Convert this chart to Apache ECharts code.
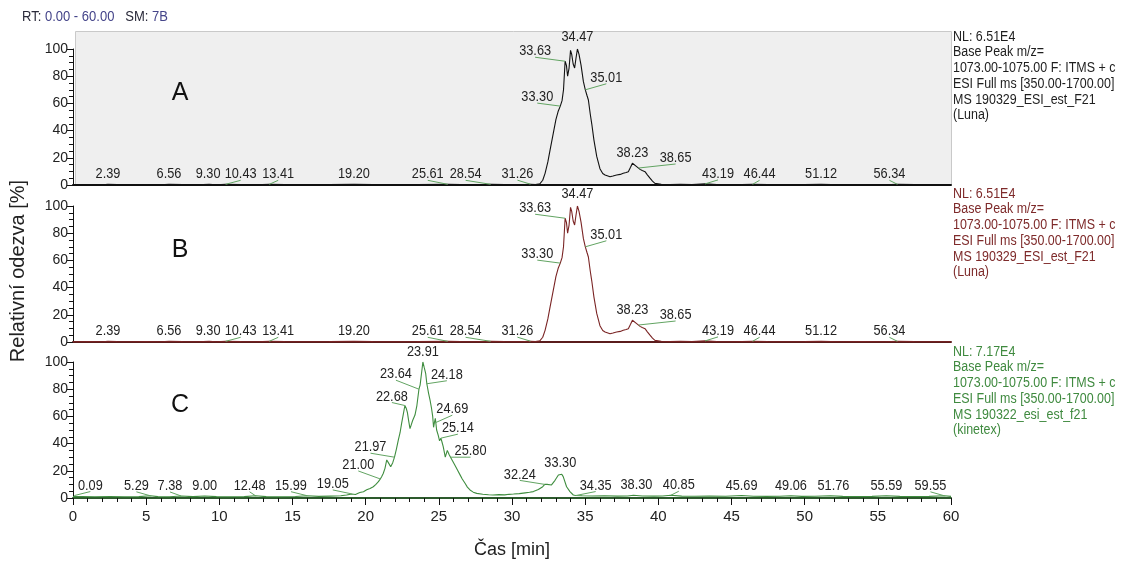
<!DOCTYPE html>
<html>
<head>
<meta charset="utf-8">
<style>
  html, body { margin: 0; padding: 0; background: #ffffff; }
  #chart { width: 1124px; height: 563px; }
</style>
<script src="https://cdn.jsdelivr.net/npm/echarts@6/dist/echarts.min.js"></script>
</head>
<body>
<div id="chart"></div>
<script>
// Retention time axis (minutes) and relative intensity axis (%)
const timeRange = [0, 60];
const intensityRange = [0, 100];

// Base peak chromatogram, Luna column (traces A and B are the same run)
const traceLuna = [
  [0, 0.2], [1, 0.3], [2, 0.2], [2.39, 0.5], [3, 0.3], [4, 0.2], [5, 0.3], [6, 0.2], [6.56, 0.5],
  [7.5, 0.3], [8.5, 0.2], [9.30, 0.5], [9.8, 0.2], [10.43, 0.5], [11.5, 0.3], [12.5, 0.2], [13.41, 0.5],
  [14.5, 0.3], [16, 0.2], [17.5, 0.3], [19.20, 0.5], [20.5, 0.3], [22, 0.2], [23.5, 0.3], [25.61, 0.5],
  [26.5, 0.3], [27.5, 0.2], [28.54, 0.5], [29.5, 0.3], [30.5, 0.2], [31.26, 0.6], [31.6, 0.3], [31.9, 0.8],
  [32.1, 3.5], [32.26, 8.6], [32.45, 17], [32.6, 25.7], [32.82, 38], [33.0, 48], [33.15, 54], [33.30, 58],
  [33.42, 62], [33.52, 70], [33.63, 91], [33.72, 88], [33.80, 80], [33.90, 86], [34.0, 99], [34.08, 96],
  [34.18, 89], [34.28, 86], [34.37, 93], [34.47, 100], [34.58, 96], [34.72, 88], [34.88, 76], [35.01, 70],
  [35.12, 66], [35.22, 62.5], [35.35, 52], [35.45, 45], [35.6, 33], [35.79, 21], [36.01, 12], [36.2, 8.5],
  [36.36, 7.4], [36.7, 6.1], [36.9, 6.6], [37.15, 7.4], [37.4, 7.8], [37.6, 8.6], [37.8, 9.2], [37.95, 9.8],
  [38.1, 13], [38.23, 16], [38.35, 15], [38.52, 13.5], [38.65, 12.5], [38.75, 11.5], [38.9, 10.6],
  [39.09, 9.8], [39.25, 7.5], [39.43, 5], [39.6, 2.8], [39.77, 1.2], [40.2, 0.5], [40.8, 0.4], [41.5, 0.6],
  [42.3, 0.3], [43.19, 0.8], [44, 0.3], [45, 0.2], [46.44, 0.5], [47.5, 0.3], [49, 0.2], [50, 0.3],
  [51.12, 0.5], [52.5, 0.2], [54, 0.3], [55.5, 0.2], [56.34, 0.5], [57.5, 0.3], [59, 0.2], [60, 0.2]
];

// Base peak chromatogram, Kinetex column (trace C)
const traceKinetex = [
  [0, 1.0], [0.09, 1.8], [0.6, 1.1], [1.5, 0.9], [2.5, 1.0], [3.5, 0.9], [4.5, 1.0], [5.29, 1.6],
  [5.8, 1.0], [6.6, 0.9], [7.38, 1.5], [8.2, 1.0], [9.00, 1.5], [9.8, 1.0], [10.8, 0.9], [11.7, 1.0],
  [12.48, 1.6], [13.2, 1.0], [14.2, 0.9], [15.2, 1.1], [15.99, 1.7], [16.8, 1.2], [17.6, 1.4], [18.3, 1.6],
  [18.7, 2.2], [19.05, 3.0], [19.3, 2.6], [19.6, 4.0], [19.85, 4.6], [20.07, 6.0], [20.3, 7.0], [20.52, 8.3],
  [20.7, 10], [20.87, 12], [21.00, 14], [21.09, 15.7], [21.2, 18], [21.32, 21.8], [21.44, 28], [21.55, 26],
  [21.71, 23], [21.85, 26], [21.97, 30], [22.1, 36], [22.23, 42.6], [22.35, 48], [22.46, 55], [22.58, 62],
  [22.68, 68], [22.77, 66], [22.85, 63], [22.95, 56], [23.03, 51], [23.12, 54], [23.21, 57], [23.37, 61],
  [23.5, 68], [23.64, 80], [23.72, 83], [23.8, 82], [23.91, 100], [24.0, 96], [24.1, 91.7], [24.18, 84],
  [24.3, 77], [24.4, 72], [24.5, 66], [24.58, 60], [24.64, 52], [24.69, 55], [24.76, 58.6], [24.85, 50],
  [24.96, 46], [25.05, 42], [25.14, 44], [25.22, 41], [25.3, 37.7], [25.44, 30], [25.58, 35], [25.7, 32],
  [25.80, 30], [25.95, 27], [26.1, 24], [26.3, 20], [26.45, 17], [26.6, 14], [26.79, 10.8], [26.95, 8],
  [27.13, 5.9], [27.35, 4.3], [27.59, 3.4], [28.0, 2.8], [28.4, 2.4], [28.7, 2.2], [29.1, 2.5], [29.5, 2.3],
  [29.8, 2.7], [30.1, 2.9], [30.5, 3.2], [30.9, 3.8], [31.2, 4.2], [31.46, 4.7], [31.8, 6.2], [32.1, 8.3],
  [32.24, 10], [32.4, 10], [32.7, 9.6], [32.94, 13], [33.17, 16.9], [33.30, 18], [33.4, 17.5], [33.5, 15.7],
  [33.73, 8.3], [33.96, 4.7], [34.19, 2.2], [34.35, 1.8], [34.8, 1.6], [35.5, 1.5], [36.3, 1.6], [37.2, 1.4],
  [37.9, 1.5], [38.30, 2.0], [38.9, 1.5], [39.7, 1.4], [40.3, 1.5], [40.85, 2.0], [41.6, 1.4], [42.5, 1.3],
  [43.5, 1.4], [44.6, 1.3], [45.69, 1.8], [46.5, 1.3], [47.4, 1.2], [48.3, 1.3], [49.06, 1.7], [49.8, 1.2],
  [50.7, 1.3], [51.76, 1.7], [52.6, 1.2], [53.5, 1.1], [54.6, 1.2], [55.59, 1.7], [56.5, 1.2], [57.5, 1.1],
  [58.5, 1.2], [59.55, 1.6], [60, 1.2]
];

// Labelled retention times (min)
const peaksLuna = [2.39, 6.56, 9.30, 10.43, 13.41, 19.20, 25.61, 28.54, 31.26, 33.30, 33.63, 34.47,
  35.01, 38.23, 38.65, 43.19, 46.44, 51.12, 56.34];
const peaksKinetex = [0.09, 5.29, 7.38, 9.00, 12.48, 15.99, 19.05, 21.00, 21.97, 22.68, 23.64, 23.91,
  24.18, 24.69, 25.14, 25.80, 32.24, 33.30, 34.35, 38.30, 40.85, 45.69, 49.06, 51.76, 55.59, 59.55];

// Panel captions and scan headers
const panelLetters = ['A', 'B', 'C'];
const headerLuna = ['NL: 6.51E4', 'Base Peak m/z=', '1073.00-1075.00 F: ITMS + c',
  'ESI Full ms [350.00-1700.00]', 'MS 190329_ESI_est_F21', '(Luna)'];
const headerKinetex = ['NL: 7.17E4', 'Base Peak m/z=', '1073.00-1075.00 F: ITMS + c',
  'ESI Full ms [350.00-1700.00]', 'MS 190322_esi_est_f21', '(kinetex)'];

// ---- layout (pixels) ----
const SANS = '"Liberation Sans", Arial, sans-serif';
const PLOT_LEFT = 73, PLOT_RIGHT = 951;
// horizontal squeeze that gives the condensed look of the instrument font
const NARROW_X = 0.85;
const panels = [
  { top: 49, bottom: 185, trace: '#111111', base: '#111111', text: '#1e1e1e' },
  { top: 206, bottom: 342, trace: '#7a2424', base: '#5a1c1c', text: '#7e2a2a' },
  { top: 362, bottom: 498, trace: '#3f8d3f', base: '#2d5a2d', text: '#3f8a3f' }
];
// label pixel offsets [dx, dy] relative to the labelled point
const offsetsLuna = [[0, -10], [0, -10], [-1, -10], [15, -10], [9, -10], [0, -10], [-20, -10], [-25, -10],
  [-13, -10], [-23, -9], [-30, -10], [0, -12], [21, -12], [0, -10], [37, -10], [13, -10], [7, -10],
  [0, -10], [-8, -10]];
const offsetsKinetex = [[16, -10], [-14, -10], [-11, -10], [0, -10], [-6, -10], [-16, -10], [-19, -10],
  [-22, -14], [-24, -10], [-13, -9], [-23, -15], [0, -10], [20, -9], [18, -14], [17, -10], [20, -6],
  [-25, -10], [0, -11], [20, -10], [3, -10], [8, -10], [0, -10], [0, -10], [3, -10], [0, -10], [-14, -10]];

function heightAt(trace, rt) {
  const hit = trace.find(p => Math.abs(p[0] - rt) < 1e-9);
  return hit ? hit[1] : 0;
}

const chart = echarts.init(document.getElementById('chart'), null, { renderer: 'canvas' });

const grids = panels.map(p => ({
  left: PLOT_LEFT, width: PLOT_RIGHT - PLOT_LEFT, top: p.top, height: p.bottom - p.top, containLabel: false
}));

const xAxes = panels.map((p, i) => ({
  type: 'value', gridIndex: i, min: timeRange[0], max: timeRange[1], interval: 5,
  axisLine: { show: true, onZero: false, lineStyle: { color: p.base, width: 2 } },
  axisTick: { show: i === 2, length: 7, lineStyle: { color: '#111', width: 1 } },
  minorTick: { show: i === 2, splitNumber: 5, length: 4, lineStyle: { color: '#111', width: 1 } },
  axisLabel: { show: i === 2, color: '#222', fontSize: 15, fontFamily: SANS, margin: 11 },
  splitLine: { show: false }, minorSplitLine: { show: false }
}));

const yAxes = panels.map((p, i) => ({
  type: 'value', gridIndex: i, min: intensityRange[0], max: intensityRange[1], interval: 20,
  axisLine: { show: true, lineStyle: { color: '#111', width: 1 } },
  axisTick: { show: true, length: 6, lineStyle: { color: '#111' } },
  minorTick: { show: true, splitNumber: 4, length: 4, lineStyle: { color: '#111' } },
  axisLabel: { color: '#222', fontSize: 14, fontFamily: SANS, margin: 5 },
  splitLine: { show: false }
}));

function traceSeries(i, data) {
  return {
    type: 'line', xAxisIndex: i, yAxisIndex: i, data: data, showSymbol: false, symbol: 'none',
    lineStyle: { color: panels[i].trace, width: 1.1 }, z: 3, silent: true, animation: false
  };
}

function labelSeries(i, trace, peaks, offsets) {
  return {
    type: 'custom', xAxisIndex: i, yAxisIndex: i, z: 5, silent: true, animation: false,
    data: peaks.map(rt => [rt, heightAt(trace, rt)]),
    renderItem: function (params, api) {
      const pt = api.coord([api.value(0), api.value(1)]);
      const off = offsets[params.dataIndex];
      const lx = pt[0] + off[0], ly = pt[1] + off[1];
      const children = [];
      if (Math.abs(off[0]) > 4) {
        children.push({
          type: 'line', shape: { x1: lx, y1: ly + 6, x2: pt[0], y2: pt[1] },
          style: { stroke: '#62a462', lineWidth: 1 }
        });
      }
      children.push({
        type: 'text', x: lx, y: ly, scaleX: NARROW_X,
        style: {
          text: api.value(0).toFixed(2), x: 0, y: 0, align: 'center', verticalAlign: 'middle',
          font: '15px ' + SANS, fill: '#222'
        }
      });
      return { type: 'group', children: children };
    }
  };
}

const graphics = [
  // shaded frame of the active panel
  { type: 'rect', z: -10, shape: { x: 75.5, y: 31.5, width: 876, height: 153 },
    style: { fill: '#efefef', stroke: '#c9c9c9', lineWidth: 1 } },
  { type: 'text', x: 22, y: 17, scaleX: 0.93,
    style: { text: '{k|RT:} {v|0.00 - 60.00}   {k|SM:} {v|7B}', font: '14px ' + SANS,
      verticalAlign: 'middle', align: 'left',
      rich: { k: { fill: '#2a2a3a', font: '14px ' + SANS }, v: { fill: '#45458a', font: '14px ' + SANS } } } },
  { type: 'text', x: 18, y: 271, rotation: Math.PI / 2,
    style: { text: 'Relativní odezva [%]', font: '20px ' + SANS, fill: '#222', align: 'center', verticalAlign: 'middle' } },
  { type: 'text', x: 512, y: 550,
    style: { text: 'Čas [min]', font: '18px ' + SANS, fill: '#222', align: 'center', verticalAlign: 'middle' } }
];

const letterY = [93, 250, 405];
panelLetters.forEach((t, i) => {
  graphics.push({ type: 'text', x: 180, y: letterY[i],
    style: { text: t, font: '25px ' + SANS, fill: '#111', align: 'center', verticalAlign: 'middle' } });
});

const headerTops = [29, 186, 344];
[headerLuna, headerLuna, headerKinetex].forEach((lines, i) => {
  graphics.push({ type: 'text', x: 953, y: headerTops[i], scaleX: 0.89,
    style: { text: lines.join('\n'), font: '14px ' + SANS, lineHeight: 15.7, fill: panels[i].text,
      align: 'left', verticalAlign: 'top' } });
});

chart.setOption({
  backgroundColor: '#ffffff',
  animation: false,
  grid: grids,
  xAxis: xAxes,
  yAxis: yAxes,
  graphic: graphics,
  series: [
    traceSeries(0, traceLuna),
    traceSeries(1, traceLuna),
    traceSeries(2, traceKinetex),
    labelSeries(0, traceLuna, peaksLuna, offsetsLuna),
    labelSeries(1, traceLuna, peaksLuna, offsetsLuna),
    labelSeries(2, traceKinetex, peaksKinetex, offsetsKinetex)
  ]
});
</script>
</body>
</html>
